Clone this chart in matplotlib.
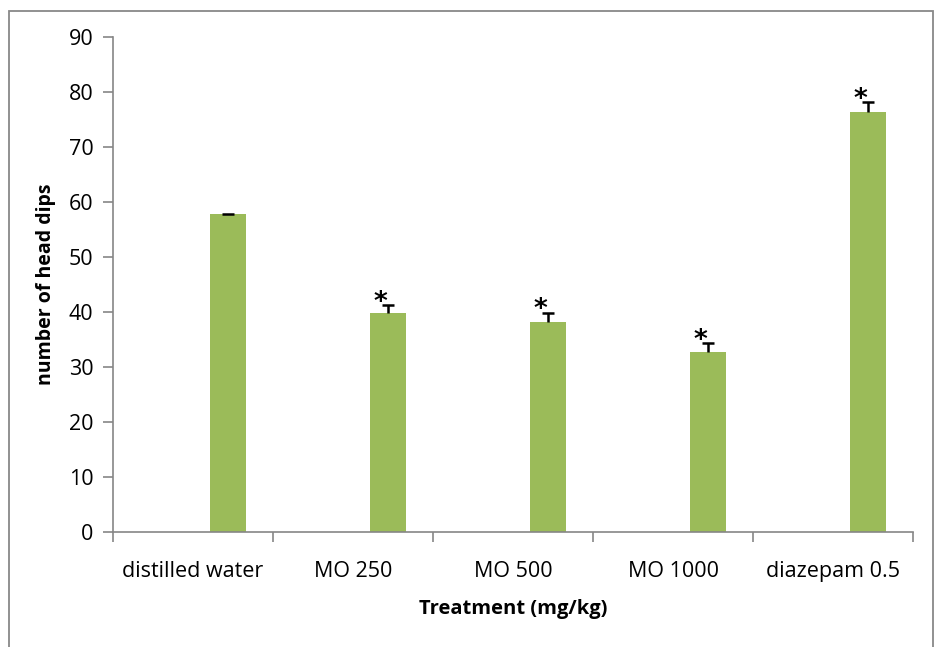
import numpy as np
import matplotlib.pyplot as plt
from matplotlib.patches import Rectangle

treatments = ["distilled water", "MO 250", "MO 500", "MO 1000", "diazepam 0.5"]
head_dips = [57.8, 39.8, 38.2, 32.8, 76.4]
sem = [0.1, 1.4, 1.6, 1.5, 1.7]
significant = [False, True, True, True, True]

plt.rcParams['font.family'] = ['Open Sans', 'DejaVu Sans']

fig = plt.figure(figsize=(9.44, 6.47), dpi=100)
ax = fig.add_axes([0.1197, 0.1777, 0.8475, 0.7651])

# frame around the whole chart area
fig.patches.append(Rectangle((9 / 944, -0.05), 924 / 944, 1.05 - 11 / 647,
                             transform=fig.transFigure, fill=False,
                             edgecolor="#888888", linewidth=1.3))

x = np.arange(len(treatments))
offset = 0.22
xb = x + offset
tops = np.array(head_dips) + np.array(sem)
ax.bar(xb, head_dips, width=0.225, color="#9BBB59", zorder=2)
# upper-only error bars: stem plus a cap at the top
ax.vlines(xb, head_dips, tops, color="black", linewidth=1.8, zorder=3)
ax.plot(xb, tops, linestyle="none", marker="_", markersize=9,
        markeredgewidth=1.8, color="black", zorder=3)

for xi, t, s in zip(xb, tops, significant):
    if s:
        ax.text(xi - 0.05, t + 0.5, "*", ha="center", va="center",
                fontsize=19, family="DejaVu Sans", fontweight="bold")

ax.set_xlim(-0.5, len(treatments) - 0.5)
ax.set_ylim(0, 90)
ax.set_yticks(range(0, 91, 10))
ax.set_xticks(x)
ax.set_xticklabels(treatments)
ax.set_xticks(np.arange(-0.5, len(treatments), 1), minor=True)
ax.tick_params(axis="x", which="major", length=0, pad=21, labelsize=15.5)
ax.tick_params(axis="x", which="minor", length=7, color="#868686", width=1.2)
ax.tick_params(axis="y", length=7, color="#868686", width=1.2, labelsize=15.5, pad=7)

for side in ["top", "right"]:
    ax.spines[side].set_visible(False)
for side in ["left", "bottom"]:
    ax.spines[side].set_color("#868686")
    ax.spines[side].set_linewidth(1.2)

ax.set_xlabel("Treatment (mg/kg)", fontsize=14.5, fontweight="bold", labelpad=12)
ax.set_ylabel("number of head dips", fontsize=14, fontweight="bold", labelpad=9)

fig.savefig("out.png", dpi=100)
